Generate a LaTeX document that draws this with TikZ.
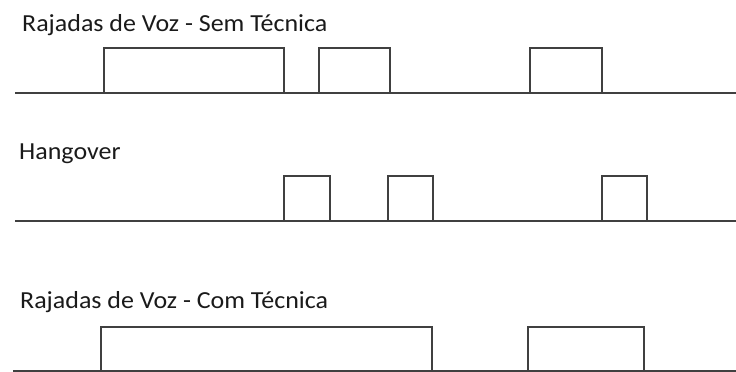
\documentclass[tikz,border=0pt]{standalone}
\usepackage{fontspec}
\setmainfont{Carlito}[FakeStretch=1.06]
\usetikzlibrary{positioning}
\definecolor{wave}{HTML}{404040}
\definecolor{labeltext}{HTML}{1A1A1A}
\tikzset{
  signal/.style={draw=wave,line width=2pt,line join=miter},
  rowlabel/.style={anchor=base west,inner sep=0pt,font=\fontsize{24.5}{29}\selectfont,text=labeltext},
}

\begin{document}
\begin{tikzpicture}[x=1pt,y=-1pt]
  \useasboundingbox (0,0) rectangle (736,372);
  % sem tecnica
  \node[rowlabel] (semlbl) at (22,31) {Rajadas de Voz - Sem Técnica};
  \draw[signal] (15,92.5) -- (736,92.5);
  \foreach \a/\b in {104/284,319/390,530/602}
    \draw[signal] (\a,92.5) |- (\b,48) -- (\b,92.5);
  % hangover
  \node[rowlabel] (hanglbl) at (19,159) {Hangover};
  \draw[signal] (15,220.5) -- (736,220.5);
  \foreach \a/\b in {284/330,388/433,602/647}
    \draw[signal] (\a,220.5) |- (\b,176) -- (\b,220.5);
  % com tecnica
  \node[rowlabel] (comlbl) at (20,308) {Rajadas de Voz - Com Técnica};
  \draw[signal] (13,370.5) -- (736,370.5);
  \foreach \a/\b in {101/432,528/644}
    \draw[signal] (\a,370.5) |- (\b,326.5) -- (\b,370.5);
\end{tikzpicture}
\end{document}
